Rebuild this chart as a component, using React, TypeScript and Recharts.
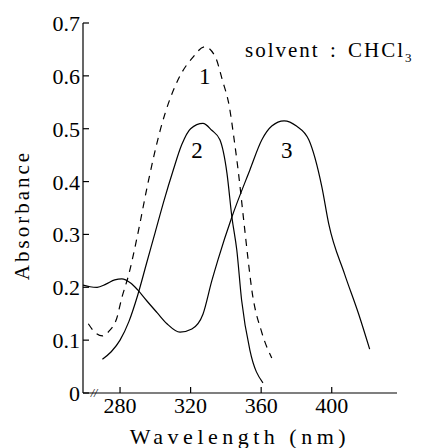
import { LineChart, Line, XAxis, YAxis, ReferenceDot } from 'recharts';

// curve 1 (dashed)
const wl1 = [262, 266, 270, 274, 278, 281, 285, 290, 296, 303, 314, 321, 328, 334, 338, 342, 344.5, 347, 350, 352.5, 354.7, 360.4, 366];
const abs1 = [0.131, 0.114, 0.108, 0.118, 0.14, 0.18, 0.225, 0.3, 0.4, 0.5, 0.6, 0.634, 0.655, 0.636, 0.592, 0.541, 0.484, 0.42, 0.33, 0.255, 0.195, 0.114, 0.066];

// curve 2
const wl2 = [270, 275, 280, 285, 290, 295, 300, 305, 310, 315, 320, 327, 332, 336.6, 340.6, 343.4, 346.2, 348.9, 353.6, 361];
const abs2 = [0.064, 0.078, 0.1, 0.135, 0.185, 0.245, 0.305, 0.365, 0.42, 0.47, 0.5, 0.51, 0.497, 0.479, 0.416, 0.333, 0.27, 0.176, 0.081, 0.019];

// curve 3
const wl3 = [259, 263, 267, 272, 277, 281, 286, 290, 295, 301, 306.6, 314, 320.7, 327, 332, 335.5, 343.4, 353.6, 360.4, 366, 373, 380, 387, 394.4, 398.3, 407.3, 415.3, 421.5];
const abs3 = [0.204, 0.201, 0.2, 0.206, 0.214, 0.216, 0.208, 0.195, 0.175, 0.152, 0.131, 0.115, 0.121, 0.149, 0.212, 0.252, 0.333, 0.422, 0.479, 0.505, 0.515, 0.505, 0.479, 0.39, 0.32, 0.225, 0.149, 0.083];

const xTicks = [280, 320, 360, 400];
const yTicks = [0, 0.1, 0.2, 0.3, 0.4, 0.5, 0.6, 0.7];
const curveNames = ['1', '2', '3'];
const curveNameAt = [[328, 0.6], [323.6, 0.46], [374.5, 0.46]];

const toPoints = (xs: number[], ys: number[]) => xs.map((w, i) => ({ wl: w, a: ys[i] }));
const s1 = toPoints(wl1, abs1);
const s2 = toPoints(wl2, abs2);
const s3 = toPoints(wl3, abs3);

const FONT = "'Liberation Serif', 'DejaVu Serif', serif";

const YTick = (props: any) => {
  const { x, y, payload } = props;
  const v = payload.value;
  return (
    <g>
      <line x1={x} x2={x + 6} y1={y} y2={y} stroke="#000" strokeWidth={1.2} />
      <text x={x - 3} y={y + 8} textAnchor="end" fontFamily={FONT} fontSize={22} fill="#000">
        {v === 0 ? '0' : v.toFixed(1)}
      </text>
    </g>
  );
};

const XTick = (props: any) => {
  const { x, y, payload } = props;
  return (
    <g>
      <line x1={x} x2={x} y1={y} y2={y - 6} stroke="#000" strokeWidth={1.2} />
      <text x={x} y={y + 20} textAnchor="middle" fontFamily={FONT} fontSize={22} fill="#000">
        {payload.value}
      </text>
    </g>
  );
};

export default function App() {
  return (
    <div style={{ position: 'absolute', left: 0, top: 0, background: '#fff', fontFamily: FONT }}>
      <LineChart width={424} height={448} margin={{ top: 23, right: 27, bottom: 0, left: 0 }}>
        <XAxis
          dataKey="wl"
          type="number"
          domain={[259, 437]}
          ticks={xTicks}
          allowDataOverflow
          height={55}
          stroke="#000"
          strokeWidth={1.2}
          tickLine={false}
          tickSize={0}
          tickMargin={0}
          tick={<XTick />}
          label={{
            content: ({ viewBox }: any) => (
              <text
                x={viewBox.x + viewBox.width / 2}
                y={viewBox.y + 51}
                textAnchor="middle"
                fontFamily={FONT}
                fontSize={22}
                letterSpacing={4.5}
                fill="#000"
              >
                Wavelength (nm)
              </text>
            ),
          }}
        />
        <YAxis
          type="number"
          domain={[0, 0.7]}
          ticks={yTicks}
          width={83}
          stroke="#000"
          strokeWidth={1.2}
          tickLine={false}
          tickSize={0}
          tickMargin={0}
          tick={<YTick />}
          label={{
            content: ({ viewBox }: any) => {
              const cx = viewBox.x + 22;
              const cy = viewBox.y + 192;
              return (
                <text
                  x={cx}
                  y={cy}
                  transform={`rotate(-90 ${cx} ${cy})`}
                  textAnchor="middle"
                  dominantBaseline="central"
                  fontFamily={FONT}
                  fontSize={21}
                  letterSpacing={3}
                  fill="#000"
                >
                  Absorbance
                </text>
              );
            },
          }}
        />
        <Line data={s1} dataKey="a" type="monotone" stroke="#000" strokeWidth={1.2} strokeDasharray="7 6" dot={false} isAnimationActive={false} />
        <Line data={s2} dataKey="a" type="monotone" stroke="#000" strokeWidth={1.2} dot={false} isAnimationActive={false} />
        <Line data={s3} dataKey="a" type="monotone" stroke="#000" strokeWidth={1.2} dot={false} isAnimationActive={false} />
        {curveNames.map((n, i) => (
          <ReferenceDot
            key={n}
            x={curveNameAt[i][0]}
            y={curveNameAt[i][1]}
            r={0}
            fill="none"
            stroke="none"
            label={{
              content: ({ viewBox }: any) => (
                <text x={viewBox.x} y={viewBox.y + 8} textAnchor="middle" fontFamily={FONT} fontSize={23} fill="#000">
                  {n}
                </text>
              ),
            }}
          />
        ))}
        <ReferenceDot
          x={265.3}
          y={0}
          r={0}
          fill="none"
          stroke="none"
          label={{
            content: ({ viewBox }: any) => (
              <text x={viewBox.x} y={viewBox.y + 4} textAnchor="middle" fontFamily={FONT} fontSize={12} fontStyle="italic" fill="#000">
                //
              </text>
            ),
          }}
        />
      </LineChart>
      <div
        style={{
          position: 'absolute',
          left: 245,
          top: 38,
          fontFamily: FONT,
          fontSize: 21,
          letterSpacing: 2,
          wordSpacing: 3,
          whiteSpace: 'nowrap',
          color: '#000',
        }}
      >
        solvent : CHCl<sub style={{ fontSize: 13 }}>3</sub>
      </div>
    </div>
  );
}
